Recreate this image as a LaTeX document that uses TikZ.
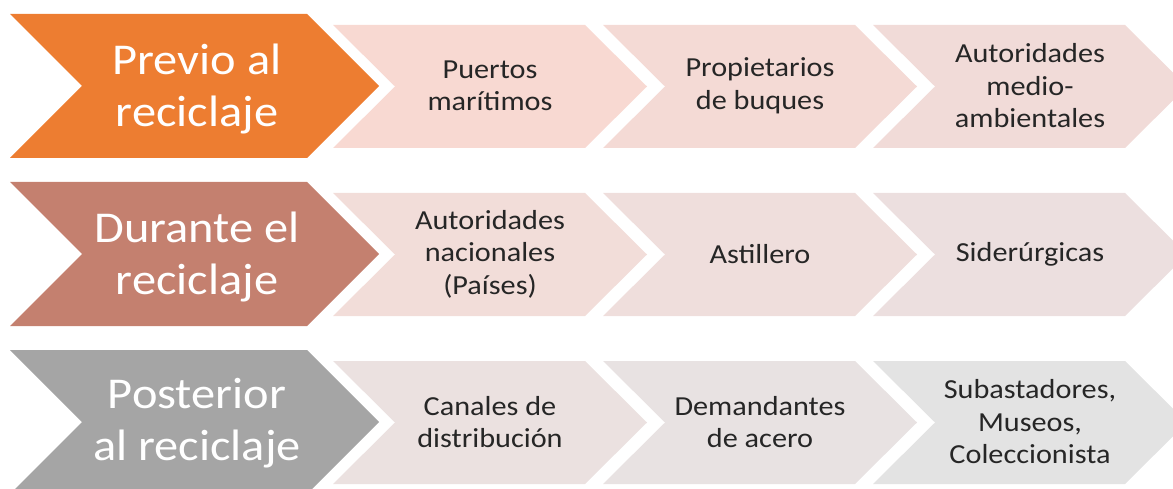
\documentclass[tikz,border=0pt]{standalone}
\usepackage{fontspec}
\setmainfont[FakeStretch=1.1]{Carlito}
\definecolor{orangeph}{HTML}{ED7D31}
\definecolor{brownph}{HTML}{C4806F}
\definecolor{grayph}{HTML}{A5A5A5}
\definecolor{pinkA}{HTML}{F8D9D2}
\definecolor{pinkB}{HTML}{F4DAD5}
\definecolor{pinkC}{HTML}{F1DBD8}
\definecolor{roseA}{HTML}{F2DDD9}
\definecolor{roseB}{HTML}{EFDEDC}
\definecolor{roseC}{HTML}{ECDFDF}
\definecolor{greyA}{HTML}{EBE1E0}
\definecolor{greyB}{HTML}{E8E2E2}
\definecolor{greyC}{HTML}{E3E3E3}
\begin{document}
\begin{tikzpicture}[x=1pt, y=-1pt,
        phase/.style={text=white, align=center, font=\fontsize{44}{52}\selectfont},
        actor/.style={text=black!85, align=center, font=\fontsize{27.5}{32.5}\selectfont}]
            \useasboundingbox (0,0) rectangle (1173,489);
            \clip (0,0) rectangle (1173,489);
            
            % previo al reciclaje
            \fill[orangeph] (10,14) -- ++(297,0) -- ++(72,72) -- ++(-72,72) -- ++(-297,0) -- ++(72,-72) -- cycle;
            \fill[pinkA] (333,25) -- ++(252,0) -- ++(62,61.5) -- ++(-62,61.5) -- ++(-252,0) -- ++(62,-61.5) -- cycle;
            \fill[pinkB] (603,25) -- ++(252,0) -- ++(62,61.5) -- ++(-62,61.5) -- ++(-252,0) -- ++(62,-61.5) -- cycle;
            \fill[pinkC] (873,25) -- ++(252,0) -- ++(62,61.5) -- ++(-62,61.5) -- ++(-252,0) -- ++(62,-61.5) -- cycle;
            \node (previo) at (197,89) [phase] {Previo al\\reciclaje};
            \node (puertos) at (490,86) [actor] {Puertos\\marítimos};
            \node (propietarios) at (760,86) [actor] {Propietarios\\de buques};
            \node (autoridades_ma) at (1030,86) [actor] {Autoridades\\medio-\\ambientales};
            
            % durante el reciclaje
            \fill[brownph] (10,182) -- ++(297,0) -- ++(72,72) -- ++(-72,72) -- ++(-297,0) -- ++(72,-72) -- cycle;
            \fill[roseA] (333,193) -- ++(252,0) -- ++(62,61.5) -- ++(-62,61.5) -- ++(-252,0) -- ++(62,-61.5) -- cycle;
            \fill[roseB] (603,193) -- ++(252,0) -- ++(62,61.5) -- ++(-62,61.5) -- ++(-252,0) -- ++(62,-61.5) -- cycle;
            \fill[roseC] (873,193) -- ++(252,0) -- ++(62,61.5) -- ++(-62,61.5) -- ++(-252,0) -- ++(62,-61.5) -- cycle;
            \node (durante) at (197,257) [phase] {Durante el\\reciclaje};
            \node (autoridades_nac) at (490,254) [actor] {Autoridades\\nacionales\\(Países)};
            \node (astillero) at (760,254) [actor] {Astillero};
            \node (siderurgicas) at (1030,254) [actor] {Siderúrgicas};
            
            % posterior al reciclaje
            \fill[grayph] (10,350) -- ++(297,0) -- ++(72,72) -- ++(-72,72) -- ++(-297,0) -- ++(72,-72) -- cycle;
            \fill[greyA] (333,361) -- ++(252,0) -- ++(62,61.5) -- ++(-62,61.5) -- ++(-252,0) -- ++(62,-61.5) -- cycle;
            \fill[greyB] (603,361) -- ++(252,0) -- ++(62,61.5) -- ++(-62,61.5) -- ++(-252,0) -- ++(62,-61.5) -- cycle;
            \fill[greyC] (873,361) -- ++(252,0) -- ++(62,61.5) -- ++(-62,61.5) -- ++(-252,0) -- ++(62,-61.5) -- cycle;
            \node (posterior) at (197,423) [phase] {Posterior\\al reciclaje};
            \node (canales) at (490,422) [actor] {Canales de\\distribución};
            \node (demandantes) at (760,422) [actor] {Demandantes\\de acero};
            \node (subastadores) at (1030,422) [actor] {Subastadores,\\Museos,\\Coleccionista};
\end{tikzpicture}
\end{document}
